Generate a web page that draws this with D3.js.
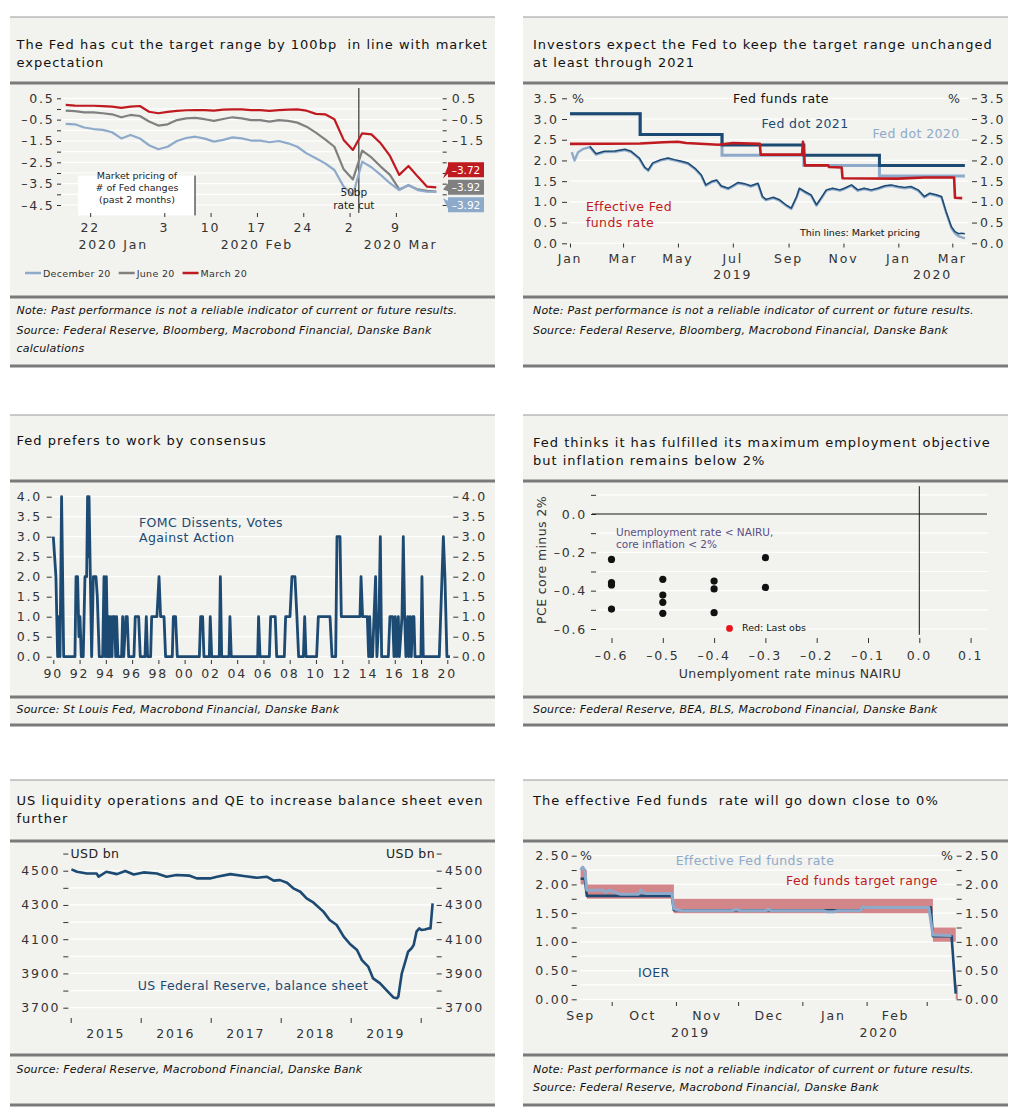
<!DOCTYPE html>
<html><head><meta charset="utf-8">
<script src="https://cdn.jsdelivr.net/npm/d3@7/dist/d3.min.js"></script>
<style>
html,body{margin:0;padding:0;background:#fff;}
svg text{font-family:"DejaVu Sans",Verdana,sans-serif;}
.tk{font-size:12.5px;letter-spacing:1.8px;fill:#333;}
.ttl{font-size:13px;letter-spacing:1px;fill:#111;white-space:pre;}
.note{font-size:11px;font-style:italic;fill:#111;letter-spacing:0.2px;}
.lbl{font-size:12.5px;letter-spacing:0.4px;}
.sm{font-size:9.5px;fill:#222;}
</style></head><body>
<svg width="1020" height="1120"></svg>
<script>
// ================= DATA =================
// Panel 1: market pricing of # of Fed changes (business days 2020)
const p1Dates = ["01-17","01-20","01-21","01-22","01-23","01-24","01-27","01-28","01-29","01-30","01-31","02-03","02-04","02-05","02-06","02-07","02-10","02-11","02-12","02-13","02-14","02-17","02-18","02-19","02-20","02-21","02-24","02-25","02-26","02-27","02-28","03-02","03-03","03-04","03-05","03-06","03-09","03-10","03-11","03-12","03-13"];
const p1Mar = [0.19,0.16,0.15,0.15,0.13,0.11,0.05,0.11,0.14,-0.13,-0.20,-0.14,-0.09,-0.06,-0.05,-0.05,-0.08,-0.03,-0.02,-0.02,-0.05,-0.05,-0.09,-0.05,-0.03,-0.02,-0.08,-0.23,-0.25,-0.48,-1.45,-1.92,-1.14,-1.19,-1.61,-2.20,-3.09,-2.67,-3.17,-3.64,-3.67];
const p1Jun = [-0.08,-0.10,-0.16,-0.16,-0.20,-0.25,-0.39,-0.28,-0.33,-0.59,-0.78,-0.72,-0.52,-0.44,-0.42,-0.48,-0.56,-0.47,-0.39,-0.44,-0.52,-0.52,-0.59,-0.52,-0.56,-0.64,-0.83,-1.11,-1.42,-1.77,-2.83,-3.30,-1.95,-2.27,-2.70,-3.09,-3.77,-3.58,-3.77,-3.84,-3.87];
const p1Dec = [-0.70,-0.72,-0.87,-0.94,-0.98,-1.09,-1.38,-1.22,-1.38,-1.70,-1.89,-1.77,-1.50,-1.36,-1.30,-1.39,-1.53,-1.45,-1.33,-1.38,-1.48,-1.48,-1.56,-1.50,-1.61,-1.77,-2.08,-2.31,-2.55,-2.86,-3.64,-4.03,-2.47,-2.73,-3.09,-3.48,-3.80,-3.56,-3.80,-3.88,-3.88];
const p1EndLabels = [-3.72,-3.92,-3.92];
const p1Major = [0.5,-0.5,-1.5,-2.5,-3.5,-4.5];
const p1RightLabelled = [0.5,-0.5,-1.5];
const p1Minor = [0,-1,-2,-3,-4];
const p1Ticks = [["01-22","22"],["02-03","3"],["02-10","10"],["02-17","17"],["02-24","24"],["03-02","2"],["03-09","9"]];
const p1Months = [["2020 Jan","01-24",0.5],["2020 Feb","02-17",0],["2020 Mar","03-09",0.5]];
const p1Cut = "03-03";

// Panel 2: Fed funds rate
const dotDates = ["2019-01-01","2019-03-20","2019-06-19","2019-09-18","2019-12-11","2020-03-15"];
const dot2021 = [3.125,2.625,2.375,2.125,1.875,1.875];
const dot2020 = [3.125,2.625,2.125,1.875,1.625,1.625];
const effrDates = ["2019-01-01","2019-03-20","2019-04-15","2019-05-01","2019-05-10","2019-06-15","2019-07-01","2019-07-31","2019-08-01","2019-09-16","2019-09-17","2019-09-18","2019-09-19","2019-10-15","2019-10-16","2019-10-30","2019-10-31","2019-12-31","2020-01-30","2020-03-03","2020-03-04","2020-03-12"];
const effrVals = [2.40,2.41,2.44,2.45,2.42,2.38,2.42,2.40,2.14,2.14,2.45,2.25,1.88,1.88,1.84,1.83,1.57,1.56,1.59,1.59,1.10,1.09];
const mp21Dates = ["2019-01-23","2019-01-30","2019-02-08","2019-02-20","2019-03-03","2019-03-10","2019-03-19","2019-03-25","2019-03-29","2019-04-03","2019-04-12","2019-04-20","2019-04-27","2019-05-05","2019-05-12","2019-05-20","2019-05-27","2019-06-01","2019-06-07","2019-06-13","2019-06-18","2019-06-26","2019-07-01","2019-07-07","2019-07-14","2019-07-21","2019-07-29","2019-08-03","2019-08-07","2019-08-15","2019-08-22","2019-08-29","2019-09-04","2019-09-10","2019-09-13","2019-09-19","2019-09-26","2019-10-02","2019-10-07","2019-10-13","2019-10-20","2019-10-28","2019-11-02","2019-11-10","2019-11-17","2019-11-24","2019-12-02","2019-12-09","2019-12-17","2019-12-24","2020-01-01","2020-01-08","2020-01-15","2020-01-23","2020-01-30","2020-02-05","2020-02-12","2020-02-18","2020-02-23","2020-02-29","2020-03-04","2020-03-08","2020-03-11","2020-03-15"];
const mp21Vals = [2.34,2.16,2.22,2.23,2.27,2.22,2.06,1.84,1.77,1.94,2.02,2.06,2.02,1.98,1.94,1.81,1.65,1.41,1.49,1.53,1.39,1.33,1.39,1.47,1.44,1.39,1.45,1.13,1.06,1.11,1.05,0.93,0.85,1.13,1.33,1.25,1.17,0.93,1.09,1.29,1.33,1.29,1.33,1.41,1.29,1.33,1.29,1.33,1.39,1.41,1.37,1.35,1.37,1.29,1.13,1.21,1.17,1.13,0.77,0.40,0.28,0.23,0.24,0.23];
const mp20Dates = ["2019-01-03","2019-01-06","2019-01-10","2019-01-16"].concat(mp21Dates);
const mp20Vals = [2.20,2.00,2.20,2.28,2.32,2.14,2.20,2.21,2.25,2.20,2.04,1.82,1.75,1.92,2.00,2.04,2.00,1.96,1.92,1.79,1.63,1.39,1.47,1.51,1.37,1.31,1.37,1.45,1.42,1.37,1.43,1.11,1.04,1.09,1.03,0.91,0.83,1.11,1.31,1.23,1.15,0.91,1.07,1.27,1.31,1.27,1.31,1.39,1.27,1.31,1.27,1.31,1.37,1.39,1.35,1.33,1.35,1.27,1.11,1.19,1.15,1.11,0.75,0.37,0.24,0.17,0.15,0.12];
const p2Ticks = [["2019-01-01","Jan"],["2019-03-01","Mar"],["2019-05-01","May"],["2019-07-01","Jul"],["2019-09-01","Sep"],["2019-11-01","Nov"],["2020-01-01","Jan"],["2020-03-01","Mar"]];
const p2Years = [["2019-07-01","2019"],["2020-02-08","2020"]];
const p2YTicks = [0,0.5,1,1.5,2,2.5,3,3.5];

// Panel 3: FOMC dissents
const dissents = [[1990.00,3],[1990.20,2],[1990.33,0],[1990.43,1],[1990.51,0],[1990.63,4],[1990.79,0],[1991.65,0],[1991.73,2],[1991.85,2],[1991.95,0.5],[1992.03,1],[1992.13,0],[1992.28,0],[1992.41,2],[1992.54,2],[1992.61,4],[1992.66,2.5],[1992.72,4],[1992.92,0],[1993.05,2],[1993.25,2],[1993.35,1.5],[1993.50,0],[1993.76,0],[1993.86,2],[1993.96,0],[1994.04,2],[1994.14,0],[1994.21,1],[1994.29,0],[1994.37,1],[1994.47,0],[1994.54,1],[1994.67,1],[1994.75,0],[1994.82,1],[1994.92,0],[1995.20,0],[1995.28,1],[1995.36,0],[1995.53,1],[1995.63,1],[1995.74,0],[1996.14,0],[1996.24,1],[1996.50,1],[1996.62,0],[1996.98,0],[1997.08,1],[1997.18,0],[1997.41,0],[1997.49,1],[1997.69,1],[1997.89,1],[1998.05,2],[1998.17,1],[1998.43,1],[1998.55,0],[1999.06,0],[1999.14,1],[1999.31,1],[1999.44,0],[2001.12,0],[2001.22,1],[2001.37,1],[2001.47,0],[2001.88,0],[2001.95,1],[2002.06,0],[2002.64,0],[2002.72,2],[2002.82,0],[2003.38,0],[2003.45,1],[2003.55,0],[2005.56,0],[2005.63,1],[2005.74,0],[2006.45,0],[2006.55,1],[2006.90,1],[2007.01,0],[2007.59,0],[2007.69,1],[2008.02,1],[2008.17,2],[2008.40,2],[2008.55,1],[2008.68,0],[2009.04,0],[2009.14,1],[2009.24,0],[2010.05,0],[2010.18,1],[2011.07,1],[2011.22,0],[2011.50,0],[2011.60,3],[2011.83,3],[2011.93,1],[2013.35,1],[2013.43,2],[2013.55,1],[2013.91,1],[2014.01,0],[2014.09,1],[2014.19,0],[2014.31,0],[2014.42,1],[2014.54,2],[2014.64,0],[2014.80,1],[2014.90,3],[2015.00,0],[2015.51,0],[2015.63,1],[2015.84,1],[2015.94,0],[2016.04,1],[2016.14,0],[2016.27,1],[2016.35,0],[2016.55,1],[2016.65,3],[2016.75,1],[2016.85,0],[2016.98,1],[2017.06,0],[2017.16,1],[2017.26,0],[2017.36,1],[2017.46,1],[2017.54,0],[2017.99,0],[2018.07,2],[2018.17,0],[2019.39,0],[2019.70,3],[2019.82,2],[2019.97,0],[2020.20,0]];
const p3YTicks = [0,0.5,1,1.5,2,2.5,3,3.5,4];
const p3XTicks = [1990,1992,1994,1996,1998,2000,2002,2004,2006,2008,2010,2012,2014,2016,2018,2020];

// Panel 4: scatter
const gapU = [-0.6,-0.6,-0.6,-0.6,-0.5,-0.5,-0.5,-0.5,-0.4,-0.4,-0.4,-0.3,-0.3];
const gapPCE = [-0.237,-0.358,-0.370,-0.496,-0.341,-0.423,-0.461,-0.518,-0.350,-0.391,-0.515,-0.228,-0.383];
const lastObs = [-0.37,-0.597];
const p4YMajor = [0,-0.2,-0.4,-0.6];
const p4YMinor = [0.1,-0.1,-0.3,-0.5];
const p4XTicks = [-0.6,-0.5,-0.4,-0.3,-0.2,-0.1,0,0.1];

// Panel 5: balance sheet
const balYears = [2015.01,2015.09,2015.23,2015.37,2015.40,2015.51,2015.66,2015.78,2015.90,2016.04,2016.23,2016.37,2016.51,2016.70,2016.80,2016.99,2017.09,2017.28,2017.47,2017.66,2017.80,2017.90,2017.99,2018.09,2018.18,2018.28,2018.37,2018.47,2018.61,2018.70,2018.80,2018.90,2018.99,2019.09,2019.16,2019.25,2019.32,2019.42,2019.51,2019.61,2019.66,2019.68,2019.73,2019.78,2019.82,2019.87,2019.90,2019.94,2019.98,2020.01,2020.06,2020.11,2020.14,2020.17];
const balVals = [4508,4494,4484,4484,4465,4494,4480,4498,4478,4490,4484,4465,4475,4471,4455,4455,4465,4480,4469,4459,4465,4442,4445,4430,4397,4377,4338,4313,4261,4212,4183,4115,4072,4037,3978,3940,3871,3842,3803,3760,3755,3764,3901,3969,4027,4047,4066,4144,4163,4154,4157,4163,4163,4309];
const p5YMajor = [3700,3900,4100,4300,4500];
const p5YMinor = [3800,4000,4200,4400,4600];
const p5Years = [2015,2016,2017,2018,2019];

// Panel 6: EFFR, IOER, target range
const bandDates = ["2019-09-16","2019-09-19","2019-10-31","2020-03-04","2020-03-15","2020-03-16"];
const bandLo = [2.00,1.75,1.50,1.00,0.00,0.00];
const bandHi = [2.25,2.00,1.75,1.25,0.25,0.25];
const ioerDates = ["2019-09-16","2019-09-18","2019-09-19","2019-10-30","2019-10-31","2020-01-29","2020-01-30","2020-03-03","2020-03-04","2020-03-13","2020-03-15"];
const ioerVals = [2.10,2.10,1.80,1.80,1.55,1.55,1.60,1.60,1.10,1.10,0.10];
const effr6Dates = ["2019-09-16","2019-09-17","2019-09-18","2019-09-19","2019-09-27","2019-09-28","2019-09-30","2019-10-02","2019-10-05","2019-10-14","2019-10-15","2019-10-16","2019-10-18","2019-10-30","2019-10-31","2019-11-02","2019-11-04","2019-11-28","2019-11-30","2019-12-02","2019-12-14","2019-12-16","2019-12-17","2020-01-11","2020-01-13","2020-01-16","2020-01-18","2020-01-29","2020-01-30","2020-01-31","2020-03-02","2020-03-04","2020-03-13"];
const effr6Vals = [2.25,2.30,2.25,1.90,1.90,1.86,1.90,1.87,1.83,1.83,1.90,1.86,1.84,1.84,1.58,1.555,1.54,1.54,1.57,1.54,1.54,1.57,1.54,1.54,1.525,1.525,1.54,1.54,1.61,1.60,1.60,1.12,1.11];
const p6YMajor = [0,0.5,1,1.5,2,2.5];
const p6YMinor = [0.25,0.75,1.25,1.75,2.25];
const p6MonthTicks = ["2019-10-01","2019-11-01","2019-12-01","2020-01-01","2020-02-01","2020-03-01"];
const p6MonthLabels = [["2019-09-16","Sep"],["2019-10-16","Oct"],["2019-11-16","Nov"],["2019-12-16","Dec"],["2020-01-16","Jan"],["2020-02-15","Feb"]];
const p6Years = [["2019-11-08","2019"],["2020-02-07","2020"]];

// ================= STYLE / HELPERS =================
const NAVY="#1c4a72", LBLUE="#8eaacb", RED="#bf1a20", GRAY="#808080", BG="#f2f2ee", RULE="#7a7a7a", INK="#333";
const loc = d3.formatLocale({decimal:".", thousands:",", grouping:[3], currency:["",""], minus:"\u2013"});
const f1 = loc.format(".1f"), f2 = loc.format(".2f"), fd = loc.format("d");
const parse = d3.timeParse("%Y-%m-%d");
const svg = d3.select("svg");

function frame(o){
  const g = svg.append("g");
  g.append("rect").attr("x",o.x).attr("y",o.top).attr("width",485).attr("height",o.bot-o.top).attr("fill",BG);
  g.append("line").attr("x1",o.x).attr("x2",o.x+485).attr("y1",o.top).attr("y2",o.top).attr("stroke","#9a9a9a").attr("stroke-width",1.2);
  [o.tr,o.nr,o.bot].forEach(y=>g.append("line").attr("x1",o.x).attr("x2",o.x+485).attr("y1",y).attr("y2",y).attr("stroke",RULE).attr("stroke-width",3));
  o.titles.forEach((t,i)=>g.append("text").attr("class","ttl").attr("x",o.tx).attr("y",o.ty[i]).text(t));
  o.notes.forEach((t,i)=>g.append("text").attr("class","note").attr("x",o.tx).attr("y",o.ny[i]).text(t));
}
function hgrid(g,y,vals,x1,x2){
  g.append("g").selectAll("line").data(vals).join("line")
   .attr("x1",x1).attr("x2",x2).attr("y1",d=>y(d)).attr("y2",d=>y(d))
   .attr("stroke","#fff").attr("stroke-width",1.2);
}
function yAx(g,y,x,side,vals,fmt,pad,size){
  const a=(side==="l"?d3.axisLeft(y):d3.axisRight(y)).tickValues(vals).tickSize(size||5).tickPadding(pad).tickFormat(fmt||(()=>""));
  const gg=g.append("g").attr("transform",`translate(${x},0)`).call(a);
  gg.attr("font-size",null).attr("font-family",null);
  gg.select(".domain").remove();
  gg.selectAll(".tick line").attr("stroke",INK);
  gg.selectAll(".tick text").attr("class","tk");
  return gg;
}
function xMarks(g,scale,vals,y0,len){
  const a=d3.axisBottom(scale).tickValues(vals).tickSize(len||4).tickFormat(()=>"");
  const gg=g.append("g").attr("transform",`translate(0,${y0})`).call(a);
  gg.select(".domain").remove();
  gg.selectAll(".tick line").attr("stroke",INK);
}
function txt(g,x,y,s,cls,anchor,fill){
  return g.append("text").attr("x",x).attr("y",y).attr("class",cls||"tk").attr("text-anchor",anchor||"middle").attr("fill",fill||null).text(s);
}

// ================= FRAMES =================
const NOTE="Note: Past performance is not a reliable indicator of current or future results.";
frame({x:10,tx:16.5,top:17,tr:83,nr:297,bot:366,titles:["The Fed has cut the target range by 100bp  in line with market","expectation"],ty:[48.5,66.5],notes:[NOTE,"Source: Federal Reserve, Bloomberg, Macrobond Financial, Danske Bank","calculations"],ny:[313.5,333.5,351.5]});
frame({x:523,tx:533,top:17,tr:83,nr:297,bot:366,titles:["Investors expect the Fed to keep the target range unchanged","at least through 2021"],ty:[48.5,66.5],notes:[NOTE,"Source: Federal Reserve, Bloomberg, Macrobond Financial, Danske Bank"],ny:[313.5,333.5]});
frame({x:10,tx:16.5,top:415,tr:481,nr:697,bot:725,titles:["Fed prefers to work by consensus"],ty:[444.5],notes:["Source: St Louis Fed, Macrobond Financial, Danske Bank"],ny:[712.5]});
frame({x:523,tx:533,top:415,tr:481,nr:697,bot:725,titles:["Fed thinks it has fulfilled its maximum employment objective","but inflation remains below 2%"],ty:[446.5,464.5],notes:["Source: Federal Reserve, BEA, BLS, Macrobond Financial, Danske Bank"],ny:[712.5]});
frame({x:10,tx:16.5,top:780,tr:841,nr:1055,bot:1105,titles:["US liquidity operations and QE to increase balance sheet even","further"],ty:[804.5,822.5],notes:["Source: Federal Reserve, Macrobond Financial, Danske Bank"],ny:[1072.5]});
frame({x:523,tx:533,top:780,tr:841,nr:1055,bot:1105,titles:["The effective Fed funds  rate will go down close to 0%"],ty:[804.5],notes:[NOTE,"Source: Federal Reserve, Macrobond Financial, Danske Bank"],ny:[1072.5,1090.5]});

// ================= PANEL 1 =================
(function(){
  const g=svg.append("g");
  const n=p1Dates.length;
  const x=d3.scaleLinear().domain([0,n-1]).range([65.7,436.3]);
  const xt=d3.scaleLinear().domain([0.36,n-1+0.36]).range([65.7,436.3]);
  const y=d3.scaleLinear().domain([-4.5,0.5]).range([205,98.3]);
  const id=d=>p1Dates.indexOf(d);
  hgrid(g,y,p1Major.concat(p1Minor),62,441);
  yAx(g,y,61,"l",p1Major,f1,2.5,4); yAx(g,y,61,"l",p1Minor,null,0,4);
  yAx(g,y,442.7,"r",p1RightLabelled,f1,5,4);
  yAx(g,y,442.7,"r",p1Major.filter(v=>!p1RightLabelled.includes(v)).concat(p1Minor),null,0,4);
  // annotation box
  g.append("rect").attr("x",78).attr("y",y(-3.12)).attr("width",117).attr("height",y(-4.99)-y(-3.12)).attr("fill","#fff");
  g.append("line").attr("x1",195).attr("x2",195).attr("y1",y(-3.12)).attr("y2",y(-4.99)).attr("stroke","#111");
  ["Market pricing of","# of Fed changes","(past 2 months)"].forEach((s,i)=>txt(g,137,179+i*12,s,"sm","middle"));
  // vertical cut line
  const xc=xt(id(p1Cut));
  g.append("line").attr("x1",xc).attr("x2",xc).attr("y1",y(0.98)).attr("y2",y(-4.87)).attr("stroke","#111");
  // lines
  const line=d3.line().x((d,i)=>x(i)).y(d=>y(d));
  [[p1Mar,RED],[p1Jun,GRAY],[p1Dec,LBLUE]].forEach(([s,c])=>g.append("path").datum(s).attr("d",line).attr("fill","none").attr("stroke",c).attr("stroke-width",2.2).attr("stroke-linejoin","round"));
  txt(g,xc-5,196,"50bp","sm","middle").style("font-size","10.5px");
  txt(g,xc-5,209,"rate cut","sm","middle").style("font-size","10.5px");
  // end value boxes
  const ends=[{s:p1Mar,c:RED},{s:p1Jun,c:GRAY},{s:p1Dec,c:LBLUE}];
  const mid=d3.mean(ends,e=>y(e.s[e.s.length-1]))-3;
  ends.forEach((e,i)=>{
    const cy=mid+(i-1)*17.5, ly=y(e.s[e.s.length-1]), ty=(cy+ly)/2;
    g.append("path").attr("d",`M443,${ty}L448,${cy-4}L448,${cy-7.5}L484,${cy-7.5}L484,${cy+7.5}L448,${cy+7.5}L448,${cy+4}Z`).attr("fill",e.c);
    g.append("text").attr("x",466).attr("y",cy+4).attr("text-anchor","middle").attr("fill","#fff").style("font-size","10.5px").text(f2(p1EndLabels[i]));
  });
  // x axis
  xMarks(g,xt,p1Ticks.map(t=>id(t[0])),213,4);
  p1Ticks.forEach(t=>txt(g,xt(id(t[0])),231.5,t[1]));
  p1Months.forEach(m=>txt(g,xt(id(m[1])+m[2]),248.5,m[0]));
  // legend
  let lx=25;
  [["December 20",LBLUE],["June 20",GRAY],["March 20",RED]].forEach(([s,c])=>{
    g.append("line").attr("x1",lx).attr("x2",lx+16).attr("y1",273).attr("y2",273).attr("stroke",c).attr("stroke-width",2.5);
    const t=txt(g,lx+18,276.5,s,"sm","start").style("fill","#333").style("letter-spacing","0.3px");
    lx+=18+t.node().getComputedTextLength()+8;
  });
})();

// ================= PANEL 2 =================
(function(){
  const g=svg.append("g");
  const x=d3.scaleTime().domain([parse("2019-01-01"),parse("2020-03-01")]).range([570,952.3]);
  const y=d3.scaleLinear().domain([0,3.5]).range([243.3,98.3]);
  hgrid(g,y,p2YTicks,570,968);
  yAx(g,y,567,"l",p2YTicks,f1,3.3); yAx(g,y,972,"r",p2YTicks,f1,3);
  txt(g,572,y(3.5)+4.5,"%","tk","start");
  txt(g,960,y(3.5)+4.5,"%","tk","end").style("letter-spacing","0");
  txt(g,781,102.5,"Fed funds rate","lbl","middle","#111");
  const ln=(ds,vs,curve)=>d3.line().curve(curve||d3.curveLinear).x((d,i)=>x(parse(ds[i]))).y(d=>y(d))(vs);
  g.append("path").attr("d",ln(dotDates,dot2020,d3.curveStepAfter)).attr("fill","none").attr("stroke",LBLUE).attr("stroke-width",3);
  g.append("path").attr("d",ln(mp20Dates,mp20Vals)).attr("fill","none").attr("stroke",LBLUE).attr("stroke-width",2.4).attr("stroke-linejoin","round");
  g.append("path").attr("d",ln(mp21Dates,mp21Vals)).attr("fill","none").attr("stroke",NAVY).attr("stroke-width",1.5).attr("stroke-linejoin","round");
  g.append("path").attr("d",ln(dotDates,dot2021,d3.curveStepAfter)).attr("fill","none").attr("stroke",NAVY).attr("stroke-width",3);
  g.append("path").attr("d",ln(effrDates,effrVals)).attr("fill","none").attr("stroke",RED).attr("stroke-width",2.6).attr("stroke-linejoin","round");
  xMarks(g,x,p2Ticks.map(t=>parse(t[0])),243.5,4);
  p2Ticks.forEach(t=>txt(g,x(parse(t[0])),262.5,t[1]));
  p2Years.forEach(t=>txt(g,x(parse(t[0])),278.5,t[1]));
  txt(g,805,128,"Fed dot 2021","lbl","middle",NAVY);
  txt(g,916,138,"Fed dot 2020","lbl","middle",LBLUE);
  txt(g,586,211,"Effective Fed","lbl","start",RED);
  txt(g,586,227,"funds rate","lbl","start",RED);
  txt(g,860,236,"Thin lines: Market pricing","sm","middle").style("fill","#111");
})();

// ================= PANEL 3 =================
(function(){
  const g=svg.append("g");
  const x=d3.scaleLinear().domain([1990,2020]).range([53.3,447.3]);
  const y=d3.scaleLinear().domain([0,4]).range([656.7,496.7]);
  hgrid(g,y,p3YTicks,53,452);
  yAx(g,y,51.7,"l",p3YTicks,f1,4.7); yAx(g,y,453.3,"r",p3YTicks,f1,3.4);
  g.append("path").datum(dissents).attr("d",d3.line().x(d=>x(d[0])).y(d=>y(d[1]))).attr("fill","none").attr("stroke",NAVY).attr("stroke-width",2.8).attr("stroke-linejoin","round");
  xMarks(g,x,p3XTicks,660,4);
  p3XTicks.forEach(t=>txt(g,x(t),677.5,String(t%100).padStart(2,"0")));
  txt(g,139,527,"FOMC Dissents, Votes","lbl","start",NAVY);
  txt(g,139,542,"Against Action","lbl","start",NAVY);
})();

// ================= PANEL 4 =================
(function(){
  const g=svg.append("g");
  const x=d3.scaleLinear().domain([-0.6,0.1]).range([611.5,970.6]);
  const y=d3.scaleLinear().domain([-0.6,0]).range([629,514]);
  hgrid(g,y,p4YMajor.concat(p4YMinor),598,988);
  yAx(g,y,596,"l",p4YMajor,f1,4); yAx(g,y,596,"l",p4YMinor,null,0);
  g.append("line").attr("x1",592).attr("x2",987).attr("y1",y(0)).attr("y2",y(0)).attr("stroke","#111");
  g.append("line").attr("x1",x(0)).attr("x2",x(0)).attr("y1",y(0.145)).attr("y2",y(-0.63)).attr("stroke","#111");
  xMarks(g,x,p4XTicks,638,5);
  p4XTicks.forEach(t=>txt(g,x(t),659.5,f1(t)));
  txt(g,790,677.5,"Unemplyoment rate minus NAIRU","lbl","middle","#333");
  g.append("text").attr("class","lbl").attr("text-anchor","middle").attr("fill","#333").attr("transform","translate(546,560) rotate(-90)").text("PCE core minus 2%");
  g.append("g").selectAll("circle").data(gapU).join("circle").attr("cx",d=>x(d)).attr("cy",(d,i)=>y(gapPCE[i])).attr("r",3.6).attr("fill","#111");
  g.append("circle").attr("cx",x(lastObs[0])).attr("cy",y(lastObs[1])).attr("r",3.4).attr("fill","#e8141c");
  txt(g,616,536,"Unemployment rate < NAIRU,","sm","start").style("font-size","10.5px").style("fill","#5a4e85");
  txt(g,616,548,"core inflation < 2%","sm","start").style("font-size","10.5px").style("fill","#5a4e85");
  txt(g,742,630.5,"Red: Last obs","sm","start").style("fill","#111");
})();

// ================= PANEL 5 =================
(function(){
  const g=svg.append("g");
  const x=d3.scaleLinear().domain([2015,2020]).range([70.7,420.7]);
  const y=d3.scaleLinear().domain([3700,4500]).range([1007.7,870.7]);
  hgrid(g,y,p5YMajor.concat(p5YMinor.slice(0,4)),70,436);
  yAx(g,y,68.3,"l",p5YMajor,fd,3); yAx(g,y,68.3,"l",p5YMinor,null,0);
  yAx(g,y,436.7,"r",p5YMajor,fd,3.3); yAx(g,y,436.7,"r",p5YMinor,null,0);
  txt(g,70.5,y(4600)+4.5,"USD bn","lbl","start","#222");
  txt(g,435,y(4600)+4.5,"USD bn","lbl","end","#222");
  g.append("path").datum(balVals).attr("d",d3.line().x((d,i)=>x(balYears[i])).y(d=>y(d))).attr("fill","none").attr("stroke",NAVY).attr("stroke-width",2.6).attr("stroke-linejoin","round");
  xMarks(g,x,p5Years.concat([2020]),1018,5);
  p5Years.forEach(t=>txt(g,x(t+0.5),1037.5,String(t)));
  txt(g,253,990,"US Federal Reserve, balance sheet","lbl","middle",NAVY);
})();

// ================= PANEL 6 =================
(function(){
  const g=svg.append("g");
  const x=d3.scaleTime().domain([parse("2019-10-01"),parse("2020-03-01")]).range([611.7,926.7]);
  const y=d3.scaleLinear().domain([0,2.5]).range([999.3,855.7]);
  hgrid(g,y,p6YMajor.concat(p6YMinor),580,955);
  yAx(g,y,576.7,"l",p6YMajor,f2,1.4); yAx(g,y,576.7,"l",p6YMinor,null,0);
  yAx(g,y,956.7,"r",p6YMajor,f2,3.3); yAx(g,y,956.7,"r",p6YMinor,null,0);
  txt(g,580,y(2.5)+4.5,"%","tk","start");
  txt(g,953,y(2.5)+4.5,"%","tk","end").style("letter-spacing","0");
  g.append("path").datum(bandDates).attr("d",d3.area().curve(d3.curveStepAfter).x(d=>x(parse(d))).y0((d,i)=>y(bandLo[i])).y1((d,i)=>y(bandHi[i]))).attr("fill","#d3868a");
  const ln=(ds,vs)=>d3.line().x((d,i)=>x(parse(ds[i]))).y(d=>y(d))(vs);
  g.append("path").attr("d",ln(ioerDates,ioerVals)).attr("fill","none").attr("stroke",NAVY).attr("stroke-width",2.6).attr("stroke-linejoin","round");
  g.append("path").attr("d",ln(effr6Dates,effr6Vals)).attr("fill","none").attr("stroke",LBLUE).attr("stroke-width",3).attr("stroke-linejoin","round");
  xMarks(g,x,p6MonthTicks.map(parse),1002,4);
  p6MonthLabels.forEach(t=>txt(g,x(parse(t[0])),1020,t[1]));
  p6Years.forEach(t=>txt(g,x(parse(t[0])),1036.5,t[1]));
  txt(g,755,864.5,"Effective Fed funds rate","lbl","middle",LBLUE);
  txt(g,862,885,"Fed funds target range","lbl","middle",RED);
  txt(g,638,976.5,"IOER","lbl","start",NAVY);
})();
</script></body></html>
